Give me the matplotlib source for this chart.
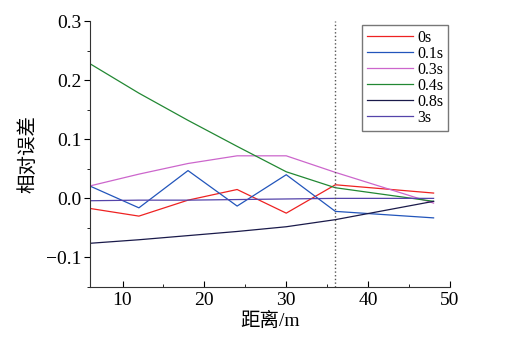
import matplotlib

matplotlib.use("Agg")
import matplotlib.pyplot as plt
from matplotlib.ticker import MultipleLocator

plt.rcParams["font.family"] = ["Liberation Serif", "Noto Sans CJK SC"]
plt.rcParams["axes.unicode_minus"] = True

# distance (m)
DIST = [6, 12, 18, 24, 30, 36, 48]
LABELS = ["0s", "0.1s", "0.3s", "0.4s", "0.8s", "3s"]
ERR_0S = [-0.017, -0.030, -0.003, 0.015, -0.025, 0.023, 0.009]
ERR_01S = [0.021, -0.016, 0.047, -0.013, 0.040, -0.022, -0.033]
ERR_03S = [0.021, 0.041, 0.059, 0.072, 0.072, 0.044, -0.008]
ERR_04S = [0.228, 0.178, 0.132, 0.088, 0.045, 0.018, -0.005]
ERR_08S = [-0.076, -0.070, -0.063, -0.056, -0.048, -0.036, -0.005]
ERR_3S = [-0.004, -0.003, -0.003, -0.002, -0.001, 0.0, 0.0]
COLORS = ["#ee2222", "#2255bb", "#cc66cc", "#228833", "#1a1a4a", "#5544aa"]
SERIES = [ERR_0S, ERR_01S, ERR_03S, ERR_04S, ERR_08S, ERR_3S]
MARK_X = 36

fig = plt.figure(figsize=(5.16, 3.45), dpi=100)
ax = fig.add_axes([0.174, 0.168, 0.698, 0.771])

for lab, ys, c in zip(LABELS, SERIES, COLORS):
    ax.plot(DIST, ys, color=c, linewidth=0.9, label=lab)
ax.axvline(MARK_X, color="#555555", linestyle=":", linewidth=1.0)

ax.set_xlim(6, 50)
ax.set_ylim(-0.15, 0.3)
ax.xaxis.set_major_locator(MultipleLocator(10))
ax.xaxis.set_minor_locator(MultipleLocator(5))
ax.yaxis.set_minor_locator(MultipleLocator(0.05))
ax.set_yticks([-0.1, 0.0, 0.1, 0.2, 0.3])
ax.set_yticklabels(["\u22120.1", "0.0", "0.1", "0.2", "0.3"])
ax.tick_params(axis="x", which="both", direction="in", labelsize=14)
ax.tick_params(axis="y", which="both", direction="out", labelsize=14, pad=2)
ax.tick_params(which="major", length=4)
ax.tick_params(which="minor", length=2)
for s in ["top", "right"]:
    ax.spines[s].set_visible(False)
for s in ["left", "bottom"]:
    ax.spines[s].set_color("#333333")

ax.set_xlabel("距离/m", fontsize=14, labelpad=2)
ax.set_ylabel("相对误差", fontsize=14, labelpad=6)

leg = ax.legend(loc="upper right", bbox_to_anchor=(0.995, 0.985), fontsize=11.5,
                frameon=True, fancybox=False, edgecolor="#555555",
                handlelength=2.9, handletextpad=0.25, labelspacing=0.0,
                borderpad=0.3, borderaxespad=0.0)
leg.get_frame().set_linewidth(1.0)

fig.savefig("out.png", dpi=100)
